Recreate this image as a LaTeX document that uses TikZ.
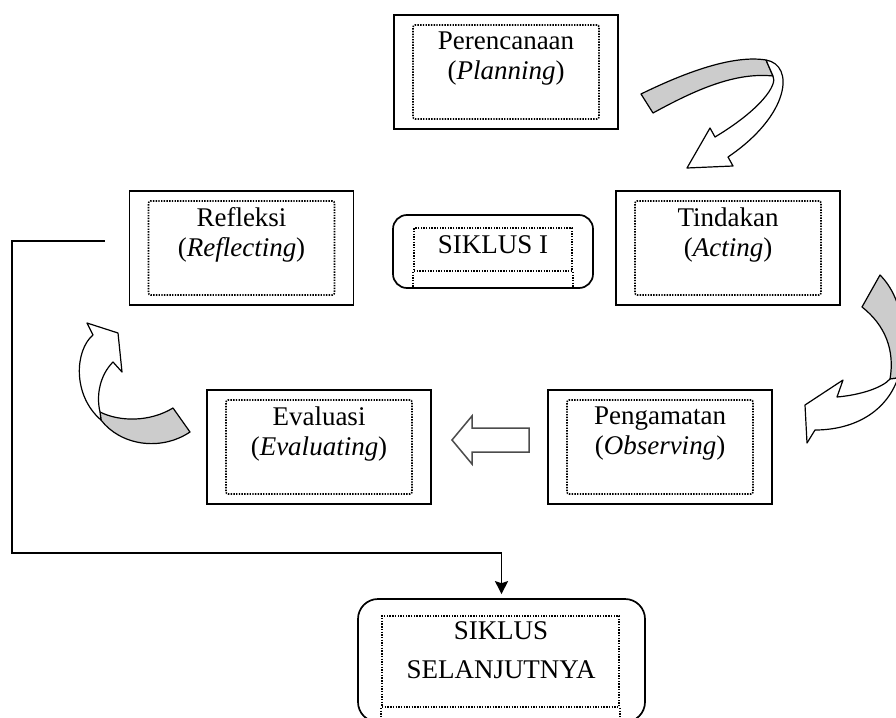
\documentclass[tikz,border=0pt]{standalone}
\usepackage{fontspec}
\setmainfont{Liberation Serif}
\usetikzlibrary{arrows.meta}
\tikzset{
  outerbox/.style={draw,line width=1.7pt,inner sep=0pt},
  dotbox/.style={draw,line width=1.6pt,dash pattern=on 1.4pt off 1.3pt,rounded corners=2pt,inner sep=0pt},
  dotline/.style={line width=1.6pt,dash pattern=on 1.4pt off 1.3pt},
  phasetxt/.style={anchor=north,inner sep=0pt,align=center},
  link/.style={line width=1.6pt,-{Stealth[length=13pt,width=13pt,inset=2pt]}},
  bendarrow/.style={draw=black,line width=1.2pt,line join=round},
}
\newcommand{\phasebox}[4][]{%
  \node[outerbox,minimum width=224pt,minimum height=114pt,#1] at (#2) (#3) {};
  \node[dotbox,minimum width=186pt,minimum height=94pt] at (#3) (#3-in) {};
  \node[phasetxt] at ([yshift=-17.5pt]#3.north) (#3-txt) {#4}}

\begin{document}
\begin{tikzpicture}[x=1pt,y=-1pt,font=\fontsize{27}{30}\selectfont]
  \useasboundingbox (0,0) rectangle (896,717);
  \clip (0,0) rectangle (896,717);

  \phasebox{506,72}{plan}{Perencanaan\\(\textit{Planning})};
  \phasebox{728,248}{act}{Tindakan\\(\textit{Acting})};
  \phasebox{660,447}{obs}{Pengamatan\\(\textit{Observing})};
  \phasebox{319,447}{eval}{Evaluasi\\(\textit{Evaluating})};
  \phasebox{241.5,248}{refl}{Refleksi\\(\textit{Reflecting})};

  % siklus I
  \node[outerbox,rounded corners=14pt,minimum width=200pt,minimum height=73pt] at (493,251.5) (cyc) {};
  \node[dotbox,rounded corners=0pt,minimum width=158pt,minimum height=43pt] at (493,249.5) (cyc-in) {};
  \draw[dotline] (cyc-in.south west) -- (cyc-in.south west |- cyc.south)
                 (cyc-in.south east) -- (cyc-in.south east |- cyc.south);
  \node[anchor=base,inner sep=0pt] at (493,253) (cyc-txt) {SIKLUS I};

  % siklus selanjutnya
  \node[outerbox,rounded corners=20pt,minimum width=287pt,minimum height=123pt] at (501.5,660.5) (next) {};
  \node[dotbox,rounded corners=0pt,minimum width=237pt,minimum height=91pt] at (500.5,661.5) (next-in) {};
  \draw[dotline] (next-in.south west) -- (next-in.south west |- next.south)
                 (next-in.south east) -- (next-in.south east |- next.south);
  \node[phasetxt] at (501,621) (next-txt) {SIKLUS\\[9pt]SELANJUTNYA};

  \coordinate (bend) at (12,553);
  \draw[link] ([xshift=-24pt,yshift=7pt]refl.west) -| (bend) -| ([yshift=4pt]next.north);

  % plan -> act
  \filldraw[bendarrow,fill=black!20] (641,94) .. controls (690,70) and (735,55) .. (766,60)
    -- (773,76) .. controls (735,72) and (695,90) .. (653,113) -- cycle;
  \filldraw[bendarrow,fill=white] (766,60) .. controls (795,65) and (790,115) .. (728,157)
    -- (733,166) -- (687,168) -- (710,128) -- (715,137)
    .. controls (760,110) and (778,85) .. (773,76) -- cycle;

  % act -> obs
  \filldraw[bendarrow,fill=black!20] (880,275) .. controls (905,300) and (908,345) .. (898,378)
    -- (890,379) .. controls (895,350) and (885,325) .. (862,307) -- cycle;
  \filldraw[bendarrow,fill=white] (898,378) .. controls (885,415) and (850,430) .. (815,430)
    -- (807,443) -- (805,405) -- (843,380) -- (837,397)
    .. controls (860,395) and (882,388) .. (890,379) -- cycle;

  % obs -> eval
  \draw[line width=1.5pt,draw=black!70,line join=miter] (529,428) -- (472,428) -- (472,416) -- (452,440)
    -- (472,464) -- (472,452) -- (529,452) -- cycle;

  % eval -> refl
  \filldraw[bendarrow,fill=black!20] (173,408) .. controls (150,422) and (120,422) .. (100,412)
    -- (101,420) .. controls (120,445) and (160,452) .. (190,432) -- cycle;
  \filldraw[bendarrow,fill=white] (101,420) .. controls (72,395) and (75,350) .. (93,335)
    -- (87,323) -- (118,333) -- (122,372) -- (113,362)
    .. controls (100,375) and (96,395) .. (100,412) -- cycle;
\end{tikzpicture}
\end{document}
